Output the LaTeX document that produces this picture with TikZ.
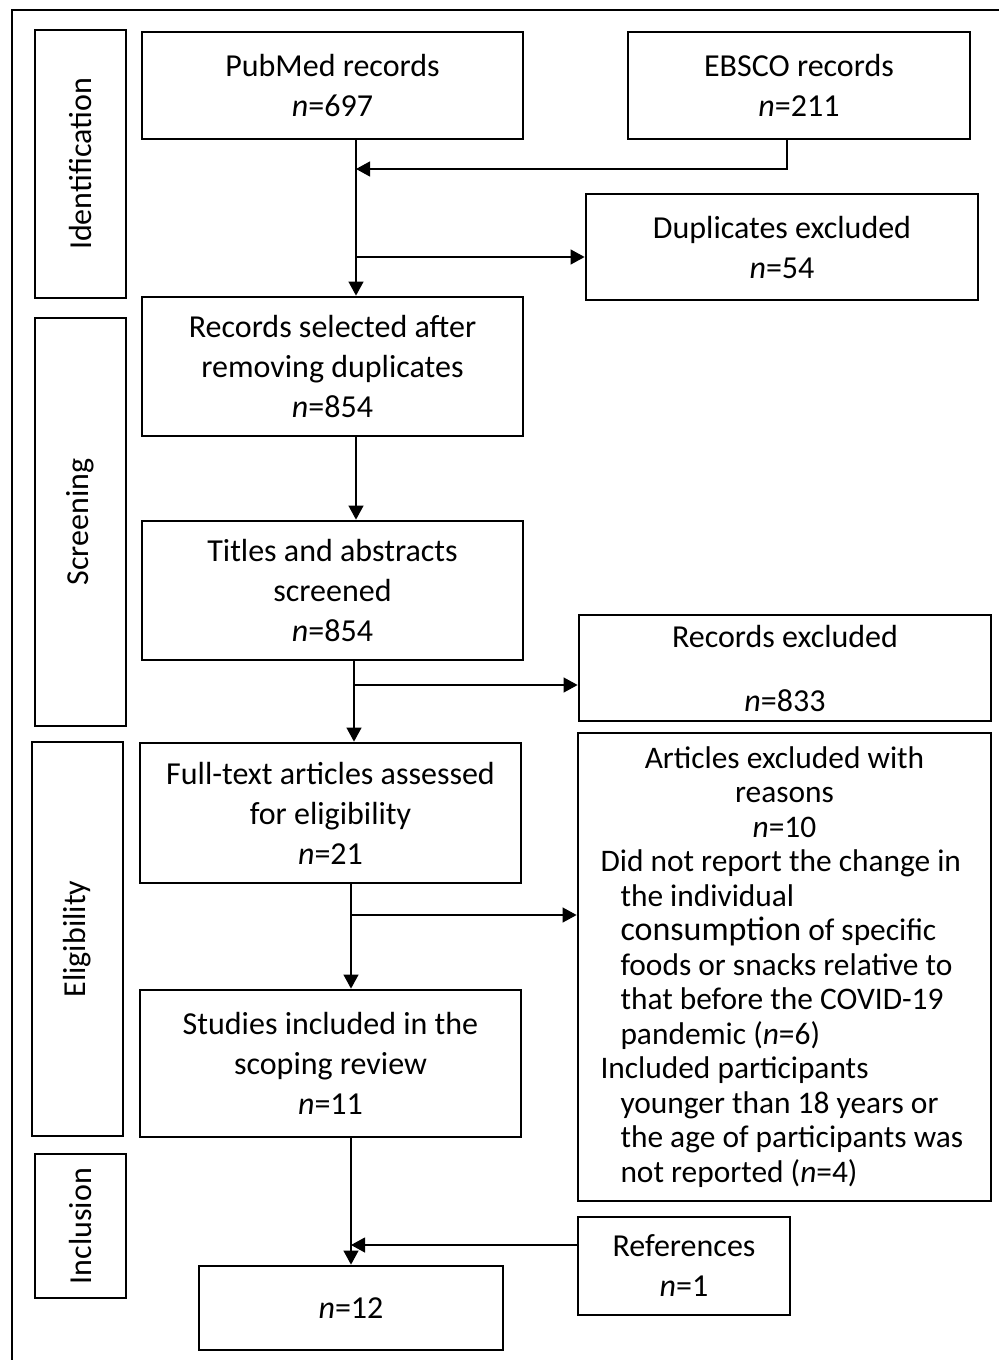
\documentclass[tikz,border=0pt]{standalone}
\usepackage{fontspec}
\setmainfont{Carlito}
\usetikzlibrary{arrows.meta,positioning}

\begin{document}
\begin{tikzpicture}[
  x=0.5pt,y=-0.5pt,
  every node/.style={font=\fontsize{16}{20}\selectfont,align=center},
  box/.style={draw,line width=1.4pt,inner sep=0pt},
  stage/.style={draw,line width=1.4pt,inner sep=0pt,rotate=90,minimum height=45.5pt},
  arr/.style={-{Triangle[length=7pt,width=7.5pt]},line width=0.6pt}
]
\useasboundingbox (0,0) rectangle (998,1360);
% outer frame, cut at right and bottom
\draw[line width=0.8pt] (12,1375) -- (12,10) -- (1010,10);

% stages
\node[stage,minimum width=134pt] (ident) at (80.5,164) {Identification};
\node[stage,minimum width=204pt] (screen) at (80.5,522) {Screening};
\node[stage,minimum width=197pt] (elig) at (77.5,939) {Eligibility};
\node[stage,minimum width=72pt] (incl) at (80.5,1226) {Inclusion};

% boxes
\node[box,minimum width=190.5pt,minimum height=53.5pt] (pubmed) at (332.5,85.5) {PubMed records\\\textit{n}=697};
\node[box,minimum width=171pt,minimum height=53.5pt] (ebsco) at (799,85.5) {EBSCO records\\\textit{n}=211};
\node[box,minimum width=196pt,minimum height=53pt] (dup) at (782,247) {Duplicates excluded\\\textit{n}=54};
\node[box,minimum width=190.5pt,minimum height=69.5pt] (selected) at (332.5,366.5) {Records selected after\\removing duplicates\\\textit{n}=854};
\node[box,minimum width=190.5pt,minimum height=69.5pt] (titles) at (332.5,590.5) {Titles and abstracts\\screened\\\textit{n}=854};
\node[box,minimum width=206pt,minimum height=53pt] (recexcl) at (785,668) {Records excluded\\[12pt]\textit{n}=833};
\node[box,minimum width=190.5pt,minimum height=70pt] (fulltext) at (330.5,813) {Full-text articles assessed\\for eligibility\\\textit{n}=21};
\node[box,minimum width=206.5pt,minimum height=234pt,align=left,
  font=\fontsize{15.7}{17.25}\selectfont] (artexcl) at (784.5,967) {%
  \makebox[184pt]{Articles excluded with}\\
  \makebox[184pt]{reasons}\\
  \makebox[184pt]{\textit{n}=10}\\
  Did not report the change in\\
  \hspace*{10pt}the individual\\
  \hspace*{10pt}{\fontsize{17}{17.25}\selectfont consumption} of specific\\
  \hspace*{10pt}foods or snacks relative to\\
  \hspace*{10pt}that before the COVID-19\\
  \hspace*{10pt}pandemic (\textit{n}=6)\\
  Included participants\\
  \hspace*{10pt}younger than 18 years or\\
  \hspace*{10pt}the age of participants was\\
  \hspace*{10pt}not reported (\textit{n}=4)};
\node[box,minimum width=190.5pt,minimum height=73.5pt] (studies) at (330.5,1063.5) {Studies included in the\\scoping review\\\textit{n}=11};
\node[box,minimum width=106pt,minimum height=49pt] (refs) at (684,1266) {References\\\textit{n}=1};
\node[box,minimum width=152pt,minimum height=42pt] (final) at (351,1308) {\textit{n}=12};

% connector columns and junctions
\coordinate (col1) at (356,0);
\coordinate (col2) at (354,0);
\coordinate (col3) at (351,0);
\coordinate (ebx) at (787,0);
\coordinate (j1) at (0,169);
\coordinate (j2) at (0,257);
\coordinate (j3) at (0,685);
\coordinate (j4) at (0,915);
\coordinate (j5) at (0,1245);

\draw[arr] (pubmed.south -| col1) -- (selected.north -| col1);
\draw[arr] (ebsco.south -| ebx) |- (j1 -| col1);
\draw[arr] (j2 -| col1) -- (j2 -| dup.west);
\draw[arr] (selected.south -| col1) -- (titles.north -| col1);
\draw[arr] (titles.south -| col2) -- (fulltext.north -| col2);
\draw[arr] (j3 -| col2) -- (j3 -| recexcl.west);
\draw[arr] (fulltext.south -| col3) -- (studies.north -| col3);
\draw[arr] (j4 -| col3) -- (j4 -| artexcl.west);
\draw[arr] (studies.south -| col3) -- (final.north -| col3);
\draw[arr] (j5 -| refs.west) -- (j5 -| col3);
\end{tikzpicture}
\end{document}
